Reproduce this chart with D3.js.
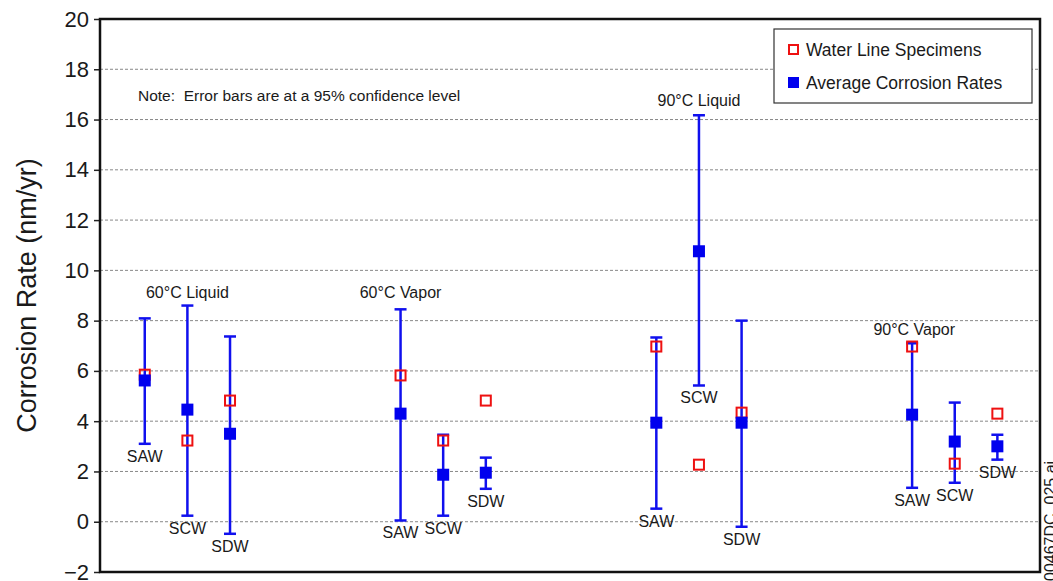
<!DOCTYPE html>
<html>
<head>
<meta charset="utf-8">
<script src="https://cdn.jsdelivr.net/npm/d3@7"></script>
<style>
	body { margin: 0; background: #fff; }
	text { font-family: "Liberation Sans", Arial, sans-serif; fill: #1a1a1a; }
</style>
</head>
<body>
<div id="chart"></div>
<script>

// groups and specimens
var groups = ["60°C Liquid", "60°C Vapor", "90°C Liquid", "90°C Vapor"];
var specimens = ["SAW", "SCW", "SDW"];

// values per group, in specimen order
var avgRate = [
	[5.62, 4.46, 3.50],
	[4.30, 1.87, 1.95],
	[3.94, 10.76, 3.94],
	[4.26, 3.19, 3.00]
];
var upper = [
	[8.09, 8.60, 7.37],
	[8.45, 3.46, 2.55],
	[7.33, 16.17, 8.00],
	[7.10, 4.74, 3.46]
];
var lower = [
	[3.10, 0.24, -0.48],
	[0.05, 0.24, 1.31],
	[0.52, 5.42, -0.20],
	[1.35, 1.55, 2.47]
];
var waterLine = [
	[5.85, 3.23, 4.82],
	[5.82, 3.23, 4.82],
	[6.97, 2.27, 4.34],
	[6.97, 2.31, 4.30]
];
var yTicks = [-2, 0, 2, 4, 6, 8, 10, 12, 14, 16, 18, 20];

var W = 1053, H = 581;
var plotL = 100, plotR = 1040, plotT = 19, plotB = 572;

var svg = d3.select("#chart")
	.append("svg")
	.attr("width", W)
	.attr("height", H);

var y = d3.scaleLinear().domain([-2, 20]).range([plotB, plotT]);
// each group takes 6 slots, specimens 1 slot apart
var x = d3.scaleLinear().domain([-1.05, 21]).range([plotL, plotR]);

var points = [];
groups.forEach(function(g, gi) {
	specimens.forEach(function(s, si) {
		points.push({
			group: gi, name: s, pos: gi * 6 + si,
			avg: avgRate[gi][si], hi: upper[gi][si], lo: lower[gi][si], wl: waterLine[gi][si]
		});
	});
});

// grid
svg.append("g")
	.selectAll("line")
	.data(yTicks.filter(function(t) { return t > -2 && t < 20; }))
	.enter().append("line")
	.attr("x1", plotL).attr("x2", plotR)
	.attr("y1", function(d) { return y(d); })
	.attr("y2", function(d) { return y(d); })
	.attr("stroke", "#888")
	.attr("stroke-width", 1)
	.attr("stroke-dasharray", "3,2");

// y axis
var yAxis = svg.append("g")
	.attr("transform", "translate(" + plotL + ",0)")
	.call(d3.axisLeft(y).tickValues(yTicks).tickSize(6).tickPadding(5).tickFormat(d3.format("d")));
yAxis.select(".domain").remove();
yAxis.selectAll(".tick line").attr("stroke", "#222").attr("stroke-width", 1.5);
yAxis.selectAll(".tick text")
	.style("font-size", "22px")
	.style("font-family", "'Liberation Sans', Arial, sans-serif")
	.attr("fill", "#1a1a1a");

// frame
svg.append("rect")
	.attr("x", plotL).attr("y", plotT)
	.attr("width", plotR - plotL).attr("height", plotB - plotT)
	.attr("fill", "none")
	.attr("stroke", "#111")
	.attr("stroke-width", 2.5);

svg.append("text")
	.attr("transform", "translate(36," + y(9) + ") rotate(-90)")
	.attr("text-anchor", "middle")
	.style("font-size", "27px")
	.text("Corrosion Rate (nm/yr)");

svg.append("text")
	.attr("x", 138).attr("y", 101)
	.style("font-size", "15.5px")
	.attr("xml:space", "preserve")
	.text("Note:  Error bars are at a 95% confidence level");

// error bars
var bars = svg.append("g");
bars.selectAll("line.v")
	.data(points).enter().append("line")
	.attr("class", "v")
	.attr("x1", function(d) { return x(d.pos); })
	.attr("x2", function(d) { return x(d.pos); })
	.attr("y1", function(d) { return y(d.hi); })
	.attr("y2", function(d) { return y(d.lo); })
	.attr("stroke", "#1010ee")
	.attr("stroke-width", 2.5);
["hi", "lo"].forEach(function(k) {
	bars.selectAll("line.cap-" + k)
		.data(points).enter().append("line")
		.attr("class", "cap-" + k)
		.attr("x1", function(d) { return x(d.pos) - 6; })
		.attr("x2", function(d) { return x(d.pos) + 6; })
		.attr("y1", function(d) { return y(d[k]); })
		.attr("y2", function(d) { return y(d[k]); })
		.attr("stroke", "#1010ee")
		.attr("stroke-width", 2.5);
});

// water line specimens
svg.append("g").selectAll("rect")
	.data(points).enter().append("rect")
	.attr("x", function(d) { return x(d.pos) - 5; })
	.attr("y", function(d) { return y(d.wl) - 5; })
	.attr("width", 10).attr("height", 10)
	.attr("fill", "none")
	.attr("stroke", "#ee1111")
	.attr("stroke-width", 2);

// averages
svg.append("g").selectAll("rect")
	.data(points).enter().append("rect")
	.attr("x", function(d) { return x(d.pos) - 6; })
	.attr("y", function(d) { return y(d.avg) - 6; })
	.attr("width", 12).attr("height", 12)
	.attr("fill", "#0000ee");

// specimen labels under the bars
svg.append("g").selectAll("text")
	.data(points).enter().append("text")
	.attr("x", function(d) { return x(d.pos); })
	.attr("y", function(d) { return y(d.lo) + 18; })
	.attr("text-anchor", "middle")
	.style("font-size", "16px")
	.text(function(d) { return d.name; });

// group labels
var groupLabelPos = [[1, 8.8], [0, 8.8], [1, 16.4], [0.05, 7.3]];
svg.append("g").selectAll("text")
	.data(groups).enter().append("text")
	.attr("x", function(d, i) { return x(i * 6 + groupLabelPos[i][0]); })
	.attr("y", function(d, i) { return y(groupLabelPos[i][1]) - 3; })
	.attr("text-anchor", "middle")
	.style("font-size", "16px")
	.text(function(d) { return d; });

// legend
var lg = svg.append("g").attr("transform", "translate(774,29)");
lg.append("rect")
	.attr("width", 258).attr("height", 74)
	.attr("fill", "#fff")
	.attr("stroke", "#333")
	.attr("stroke-width", 1.2);
lg.append("rect")
	.attr("x", 15).attr("y", 16).attr("width", 9).attr("height", 9)
	.attr("fill", "none").attr("stroke", "#ee1111").attr("stroke-width", 2);
lg.append("text").attr("x", 32).attr("y", 27).style("font-size", "17.5px").text("Water Line Specimens");
lg.append("rect")
	.attr("x", 14).attr("y", 48).attr("width", 11).attr("height", 11)
	.attr("fill", "#0000ee");
lg.append("text").attr("x", 32).attr("y", 60).style("font-size", "17.5px").text("Average Corrosion Rates");

// file tag on the right edge
svg.append("text")
	.attr("transform", "translate(1056,581) rotate(-90)")
	.style("font-size", "16px")
	.text("00467DC_025.ai");

</script>
</body>
</html>
